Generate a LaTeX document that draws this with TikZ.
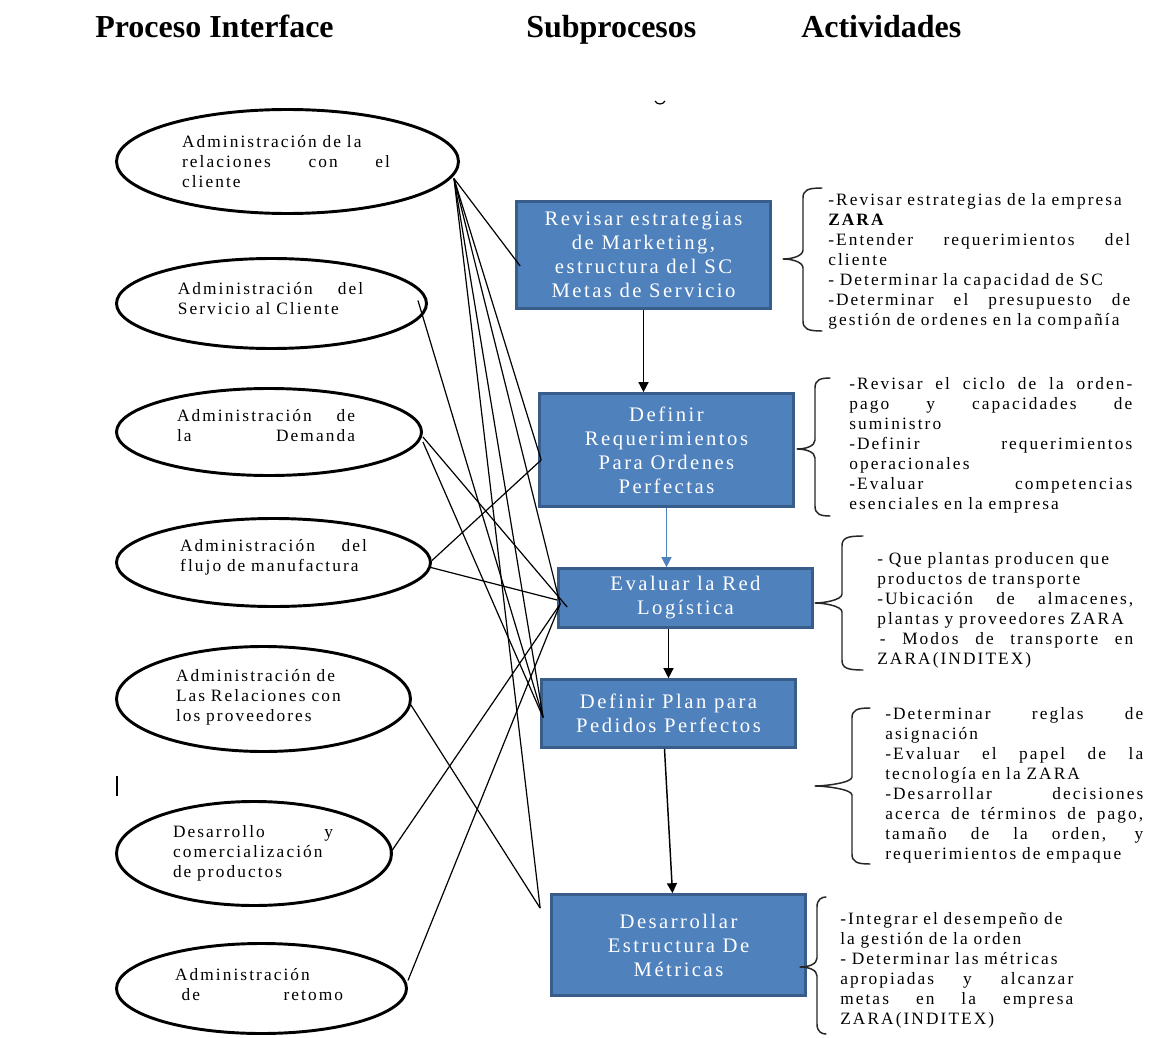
\documentclass[tikz,border=0pt]{standalone}
\usepackage{fontspec}
\setmainfont{Liberation Serif}
\newfontfamily\spacedserif[LetterSpace=12]{Liberation Serif}
\usetikzlibrary{arrows.meta,shapes.geometric,calc}

\definecolor{boxfill}{HTML}{4F81BD}
\definecolor{boxedge}{HTML}{385D8A}

% fonts
\newcommand\pitxt{\spacedserif\fontsize{13}{15}\selectfont}
\newcommand\pibox{\spacedserif\fontsize{15.5}{18}\selectfont}
\newcommand\pihead{\bfseries\fontsize{24}{28}\selectfont}

% one justified line / one left line, both as wide as the column
\newcommand\colw{100pt}
\newcommand\jl[1]{\makebox[\colw][s]{\spaceskip=\fontdimen2\font plus 1fil\relax #1}}
\newcommand\fl[1]{\makebox[\colw][l]{#1}}

% left curly brace: vertical x, hook end x, top y, bottom y, tip x, tip y
\newcommand\actbrace[6]{%
  \draw[bracestyle] (#2,#3) .. controls (#1+5,#3) and (#1,#3+2) .. (#1,#3+10)
    -- (#1,#6-9) .. controls (#1,#6-3) and (#5+9,#6) .. (#5,#6)
    .. controls (#5+9,#6) and (#1,#6+3) .. (#1,#6+9)
    -- (#1,#4-10) .. controls (#1,#4-2) and (#1+5,#4) .. (#2,#4);}

\begin{document}
\begin{tikzpicture}[x=0.75pt,y=-0.75pt,
  colwidth/.code={\def\colw{#1}},
  interface/.style 2 args={ellipse, draw=black, line width=2.2pt, fill=white,
    inner sep=0pt, minimum width=#1, minimum height=#2},
  ilabel/.style={inner sep=0pt, align=left, font=\pitxt, text width=#1, colwidth=#1},
  subproc/.style 2 args={rectangle, draw=boxedge, line width=2pt, fill=boxfill,
    text=white, align=center, font=\pibox, inner sep=0pt,
    minimum width=#1, minimum height=#2},
  activity/.style={anchor=north west, inner sep=0pt, align=left, font=\pitxt,
    text width=#1, colwidth=#1},
  heading/.style={anchor=base west, inner sep=0pt, font=\pihead},
  link/.style={draw=black, line width=0.9pt},
  flow/.style={draw=black, line width=1.1pt, -{Triangle[length=7.5pt,width=7.5pt]}},
  flowblue/.style={draw=boxfill, line width=1pt, -{Triangle[length=7.5pt,width=7.5pt]}},
  bracestyle/.style={draw=black!85, line width=1.1pt, line join=round, line cap=round}]

\useasboundingbox[fill=white] (0,0) rectangle (1171,1038);

% column headings
\node[heading] (h1) at (95,38) {Proceso Interface};
\node[heading] (h2) at (526,38) {Subprocesos};
\node[heading] (h3) at (801,38) {Actividades};

% stray marks
\draw[line width=0.9pt] (655,101) .. controls (657,105) and (663,105) .. (665,101);
\draw[line width=1.5pt] (117,776) -- (117,796);

% interface processes
\node[interface={256.5pt}{78pt}]   (e1) at (287.5,161.5) {};
\node[interface={232.5pt}{67.5pt}] (e2) at (271.5,303.5) {};
\node[interface={228.75pt}{65.25pt}] (e3) at (269,432) {};
\node[interface={235.5pt}{66pt}]   (e4) at (273.5,562.5) {};
\node[interface={220.5pt}{78.75pt}] (e5) at (263.5,699) {};
\node[interface={206.25pt}{78pt}]  (e6) at (254,853.5) {};
\node[interface={217.5pt}{67.5pt}] (e7) at (261.5,988.5) {};

\node[ilabel=156pt] (e1t) at (286,162) {%
  \fl{Administración de la}\\\jl{relaciones con el}\\\fl{cliente}};
\node[ilabel=139pt] (e2t) at (270.5,299) {%
  \jl{Administración del}\\\fl{Servicio al Cliente}};
\node[ilabel=133.5pt] (e3t) at (266,426) {%
  \jl{Administración de}\\\jl{la Demanda}};
\node[ilabel=140pt] (e4t) at (273.5,557) {%
  \jl{Administración del}\\\fl{flujo de manufactura}};
\node[ilabel=129pt] (e5t) at (262,697) {%
  \fl{Administración de}\\\fl{Las Relaciones con}\\\fl{los proveedores}};
\node[ilabel=120pt] (e6t) at (253,853) {%
  \jl{Desarrollo y}\\\fl{comercialización}\\\fl{de productos}};
\node[ilabel=126pt] (e7t) at (259,985) {%
  \fl{Administración}\\\jl{\hspace{5pt}de retomo}};

% subprocesses
\node[subproc={190.5pt}{80.25pt}] (b1) at (643.5,255)
  {Revisar estrategias\\de Marketing,\\estructura del SC\\Metas de Servicio};
\node[subproc={190.5pt}{84.75pt}] (b2) at (666.5,450)
  {Definir\\Requerimientos\\Para Ordenes\\Perfectas};
\node[subproc={190.5pt}{44.25pt}] (b3) at (685.5,598)
  {Evaluar la Red\\Logística};
\node[subproc={190.5pt}{51pt}] (b4) at (668.5,713.5)
  {Definir Plan para\\Pedidos Perfectos};
\node[subproc={190.5pt}{75.75pt}] (b5) at (678.5,945)
  {Desarrollar\\Estructura De\\Métricas};

% flow between subprocesses
\draw[flow] (b1.south) -- (b1.south |- b2.north);
\draw[flowblue] (b2.south) -- (b2.south |- b3.north);
\draw[flow] (b4.north |- b3.south) -- (b4.north);
\draw[flow] ($(b4.south)+(-4,0)$) -- ($(b5.north)+(-6,0)$);

% activities
\actbrace{803}{822}{188}{331}{783}{259}
\actbrace{815}{830}{378}{516}{797}{449}
\actbrace{842}{863}{536}{670}{815}{603}
\actbrace{852}{870}{708}{864}{815}{786}
\actbrace{817}{826}{897}{1034}{800}{967}

\node[activity=226.5pt] (a1) at (828,193) {%
  \fl{-Revisar estrategias de la empresa}\\
  \fl{\textbf{ZARA}}\\
  \jl{-Entender requerimientos del}\\
  \fl{cliente}\\
  \fl{- Determinar la capacidad de SC}\\
  \jl{-Determinar el presupuesto de}\\
  \fl{gestión de ordenes en la compañía}};
\node[activity=212.25pt] (a2) at (849,377) {%
  \jl{-Revisar el ciclo de la orden-}\\
  \jl{pago y capacidades de}\\
  \fl{suministro}\\
  \jl{-Definir requerimientos}\\
  \fl{operacionales}\\
  \jl{-Evaluar competencias}\\
  \fl{esenciales en la empresa}};
\node[activity=192pt] (a3) at (877,552) {%
  \fl{- Que plantas producen que}\\
  \fl{productos de transporte}\\
  \jl{-Ubicación de almacenes,}\\
  \fl{plantas y proveedores ZARA}\\
  \jl{\hspace{2pt}- Modos de transporte en}\\
  \fl{ZARA(INDITEX)}};
\node[activity=193.5pt] (a4) at (885,707) {%
  \jl{-Determinar reglas de}\\
  \fl{asignación}\\
  \jl{-Evaluar el papel de la}\\
  \fl{tecnología en la ZARA}\\
  \jl{-Desarrollar decisiones}\\
  \jl{acerca de términos de pago,}\\
  \jl{tamaño de la orden, y}\\
  \fl{requerimientos de empaque}};
\node[activity=174.75pt] (a5) at (840,912) {%
  \fl{-Integrar el desempeño de}\\
  \fl{la gestión de la orden}\\
  \fl{- Determinar las métricas}\\
  \jl{apropiadas y alcanzar}\\
  \jl{metas en la empresa}\\
  \fl{ZARA(INDITEX)}};

% links from interface processes to subprocesses
\coordinate (o1) at ($(e1.east)+(-6,17)$);
\coordinate (o2) at ($(e2.east)+(-10,-3)$);
\coordinate (o3a) at ($(e3.east)+(0,5)$);
\coordinate (o3b) at ($(e3.east)+(0,10)$);
\coordinate (o4a) at ($(e4.east)+(0,-2)$);
\coordinate (o4b) at ($(e4.east)+(-1,5)$);
\coordinate (o5) at ($(e5.east)+(-1,6)$);
\coordinate (o6) at ($(e6.east)+(-3,0)$);
\coordinate (o7) at ($(e7.east)+(0,-8)$);

\coordinate (i1) at ($(b1.west)+(5,11)$);
\coordinate (i2) at ($(b2.west)+(3,10)$);
\coordinate (i3) at ($(b3.west)+(3,6)$);
\coordinate (i3a) at ($(b3.west)+(10,9)$);
\coordinate (i3b) at ($(b3.west)+(0,2)$);
\coordinate (i4) at ($(b4.west)+(3,4)$);
\coordinate (i5) at ($(b5.north west)+(-10,15)$);

\draw[link] (o1) -- (i1);
\draw[link] (o1) -- (i2);
\draw[link] (o1) -- (i3);
\draw[link] (o1) -- (i4);
\draw[link] (o1) -- (i5);
\draw[link] (o2) -- (i4);
\draw[link] (o3a) -- (i3a);
\draw[link] (o3b) -- (i4);
\draw[link] (o4a) -- (i2);
\draw[link] (o4b) -- (i3b);
\draw[link] (o5) -- (i5);
\draw[link] (o6) -- (i3);
\draw[link] (o7) -- (i3);
\end{tikzpicture}
\end{document}
